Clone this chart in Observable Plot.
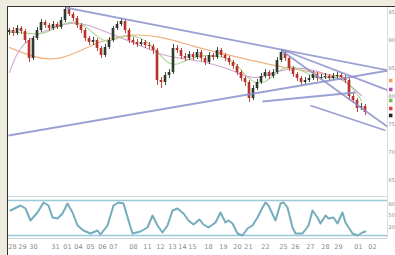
<!DOCTYPE html>
<html><head><meta charset="utf-8">
<script src="https://cdn.jsdelivr.net/npm/d3@7"></script>
<script src="https://cdn.jsdelivr.net/npm/@observablehq/plot@0.6"></script>
<style>
html,body{margin:0;padding:0;background:#eeebdf;width:395px;height:255px;overflow:hidden;font-family:"DejaVu Sans",sans-serif}
#frame{position:absolute;left:7px;top:6px;width:387px;height:248px;background:#fff;border-left:1px solid #333;border-top:1px solid #333}
#price{position:absolute;left:8px;top:7px}
#osc{position:absolute;left:8px;top:196px}
#osc g[aria-label^="x-axis"] text{font-size:6.5px}
</style></head><body>
<div id="frame"></div><div id="price"></div><div id="osc"></div>
<script>
// candle data (price levels)
const openP = [168,170,167,172,169,160,142,162,170,178,175,172,176,173,180,191,186,182,175,170,162,158,160,152,145,153,160,172,176,179,170,160,158,156,158,155,154,150,120,118,125,128,152,150,144,142,146,143,148,142,138,145,143,150,145,142,138,134,128,122,118,102,112,118,124,128,124,128,140,148,142,132,126,122,118,120,122,126,122,123,124,122,124,125,123,120,104,100,92,94];
const closeP = [170,167,172,169,160,142,162,170,178,175,172,176,173,180,191,186,182,175,170,162,158,160,152,145,153,160,172,176,179,170,160,158,156,158,155,154,150,120,118,125,128,152,150,144,142,146,143,148,142,138,145,143,150,145,142,138,134,128,122,118,102,112,118,124,128,124,128,140,148,142,132,126,122,118,120,122,126,122,123,124,122,124,125,123,120,104,100,92,94,88];
const highP = [172,173,175,174,171,162,164,173,181,180,177,179,178,183,193,193,188,184,177,172,164,163,162,154,156,163,174,179,182,181,172,163,161,161,160,158,156,152,123,128,131,156,155,152,147,149,148,151,150,144,148,147,153,152,147,144,140,136,130,124,120,115,121,127,131,130,131,143,151,150,144,134,128,124,123,125,129,128,126,127,126,127,128,127,125,122,107,102,97,96];
const lowP = [165,164,165,166,157,138,140,160,168,172,169,170,171,171,178,184,179,172,167,159,155,155,149,142,143,151,158,170,174,167,157,155,153,154,152,151,146,115,112,115,122,126,147,141,139,140,140,141,139,135,136,140,141,143,139,135,131,125,119,114,98,100,110,116,122,121,122,126,138,139,129,123,119,115,116,118,120,119,120,121,119,120,122,120,117,100,97,88,90,85];

// moving averages
const maOrangeX = [0,6,12,18,23,31,38,46,55,63,70,78,84];
const maOrangeY = [153,143,140,150,160,167,164,154,145,138,132,127,123];
const maPurpleX = [0,2,5,10,15,19,25,33,38,43,50,56,61,66,73,80,84,88];
const maPurpleY = [128,150,162,172,178,177,167,155,145,142,138,130,120,128,135,125,120,105];
const maGreenX = [0,4,8,12,16,20,24,28,32,36,40,44,48,52,56,60,64,68,72,76,80,84,88];
const maGreenY = [168,168,165,174,181,172,155,165,165,155,132,140,146,144,142,118,116,134,134,122,123,123,100];

// trendlines
const trendX1 = [14,-0.25,68,68,63.25,75.25];
const trendY1 = [193,65,151,150,99,95];
const trendX2 = [94.75,94.75,94.75,94.75,86.5,94];
const trendY2 = [130,130,110,73,108,70];

// oscillator
const oscX = [0.25,2.75,4,5.25,7,8.5,9.75,10.75,12,13.25,14.5,15.75,17,18.5,20.25,22,22.75,24.5,26,27.25,28.5,29.75,30.75,32.75,34.5,35.75,37,38.25,39.5,40.75,42,43.5,44.75,46,47.5,48.5,49.75,51.5,52.75,54,54.75,55.75,57,58.25,59.5,60.75,62,63.25,64,64.75,66.5,67.75,68.5,69.5,70.75,71.5,73.25,74.75,75.75,77,77.75,79,79.75,81,82,83.25,84,85.75,87,88.25,89];
const oscV = [28,33,30,18,26,36,33,21,20,25,35,26,13,8,5,8,4,13,33,36,35,18,5,7,11,23,13,6,13,28,30,25,18,14,19,14,11,16,26,16,18,15,5,3,10,13,21,31,36,33,18,35,36,31,11,5,5,13,28,21,15,23,20,21,15,26,16,5,3,6,7];
const oscBands = [38,3];

// axis labels
const priceTicks = [188,160,132,104,76,48,20];
const priceLabels = ["95","90","85","80","75","70","65"];
const oscTicks = [34,23,11];
const oscLabels = ["80","50","20"];
const dateTicks = [0.75,3.25,6,11.5,14.5,17.25,20.25,23.25,26,31,34.5,37.75,40.75,43.25,45.75,49.75,53.5,57,59.75,64,68.5,71.5,75.25,79,82.25,87.25,90.75];
const dateLabels = ["28","29","30","31","01","04","05","06","07","08","11","12","13","14","15","18","19","20","21","22","25","26","27","28","29","01","02"];

// MA tags on right axis
const tagLevels = [120,111,100,92,85];
const tagColors = ["#f3a25a","#b04fb0","#6cbf4a","#e0413a","#222222"];

const UP = "#2e3b2e", DOWN = "#b8342b";
const candles = closeP.map((c,i)=>({i, open: openP[i], close: c, high: highP[i], low: lowP[i], col: c >= openP[i] ? UP : DOWN}));
const upC = candles.filter(d=>d.col===UP), dnC = candles.filter(d=>d.col===DOWN);
const xDomain = [-0.25, 94.5];
const pts = (xs, ys) => xs.map((x,k)=>({x, y: ys[k]}));
const trends = trendX1.map((x,k)=>({x1:x, y1:trendY1[k], x2:trendX2[k], y2:trendY2[k]}));
const pMap = new Map(priceTicks.map((t,k)=>[t, priceLabels[k]]));
const oMap = new Map(oscTicks.map((t,k)=>[t, oscLabels[k]]));
const dMap = new Map(dateTicks.map((t,k)=>[t, dateLabels[k]]));
const tags = tagLevels.map((y,k)=>({x:95.3, y, c: tagColors[k]}));

const price = Plot.plot({
  width: 387, height: 189,
  marginLeft: 0, marginRight: 8, marginTop: 0, marginBottom: 0,
  style: {background: "transparent", fontSize: "5px", color: "#8a8a8a", fontFamily: "DejaVu Sans"},
  x: {domain: xDomain, axis: null},
  y: {domain: [4,193], axis: "right", ticks: priceTicks, tickFormat: d => pMap.get(d), tickSize: 0, tickPadding: 1, label: null},
  marks: [
    Plot.ruleX([94.5], {stroke: "#dcdcdc"}),
    Plot.line(pts(maOrangeX, maOrangeY), {x:"x", y:"y", stroke: "#f0b27e", strokeWidth: 1.2, curve: "basis"}),
    Plot.line(pts(maPurpleX, maPurpleY), {x:"x", y:"y", stroke: "#d3a6d0", strokeWidth: 1.1, curve: "basis"}),
    Plot.line(pts(maGreenX, maGreenY), {x:"x", y:"y", stroke: "#a8d898", strokeWidth: 1.1, curve: "basis"}),
    Plot.ruleX(upC, {x: "i", y1: "low", y2: "high", stroke: UP, strokeWidth: 0.9}),
    Plot.ruleX(dnC, {x: "i", y1: "low", y2: "high", stroke: DOWN, strokeWidth: 0.9}),
    Plot.rect(upC, {x1: d=>d.i-0.33, x2: d=>d.i+0.33, y1: "open", y2: "close", fill: UP}),
    Plot.rect(dnC, {x1: d=>d.i-0.33, x2: d=>d.i+0.33, y1: "open", y2: "close", fill: DOWN}),
    Plot.link(trends, {x1:"x1", y1:"y1", x2:"x2", y2:"y2", stroke: "#8b90cc", strokeWidth: 1.8, strokeOpacity: 0.85, clip: true}),
    Plot.dot(tags, {x:"x", y:"y", fill: "c", symbol: "square", r: 2})
  ]
});
document.getElementById("price").appendChild(price);

const osc = Plot.plot({
  width: 387, height: 57,
  marginLeft: 0, marginRight: 8, marginTop: 0, marginBottom: 15,
  style: {background: "transparent", fontSize: "5px", color: "#8a8a8a", fontFamily: "DejaVu Sans"},
  x: {domain: xDomain, ticks: dateTicks, tickFormat: d => dMap.get(d), tickSize: 0, tickPadding: 6, label: null},
  y: {domain: [0,42], axis: "right", ticks: oscTicks, tickFormat: d => oMap.get(d), tickSize: 0, tickPadding: 1, label: null},
  marks: [
    Plot.ruleY([42, 0], {stroke: "#cfd6da"}),
    Plot.ruleY(oscBands, {stroke: "#9cc8dc", strokeWidth: 1.4}),
    Plot.ruleX([94.5], {stroke: "#dcdcdc"}),
    Plot.line(pts(oscX, oscV), {x:"x", y:"y", stroke: "#74adbc", strokeWidth: 2, curve: "linear"})
  ]
});
document.getElementById("osc").appendChild(osc);
</script></body></html>
